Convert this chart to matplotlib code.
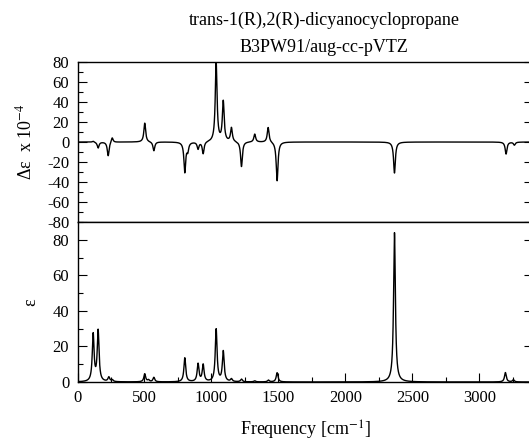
import numpy as np
import matplotlib
matplotlib.use("Agg")
import matplotlib.pyplot as plt
from matplotlib.ticker import MultipleLocator

plt.rcParams['font.family'] = ['Liberation Serif', 'DejaVu Serif']
plt.rcParams['mathtext.fontset'] = 'stix'
plt.rcParams['axes.unicode_minus'] = False

# Calculated band positions [cm-1] and intensities
ir_freq = [117, 154, 234, 260, 502, 530, 570, 801, 900, 938, 1035, 1088,
           1149, 1224, 1323, 1425, 1490, 2366, 3194, 3254]
ir_eps = [26.5, 28.5, 2.5, 1.0, 4.5, 1.0, 2.5, 13.5, 10.0, 9.5, 29.5, 17.0,
          1.5, 1.5, 0.6, 1.0, 5.2, 84.0, 5.3, 1.2]

vcd_freq = [117, 154, 229, 259, 502, 570, 801, 823, 900, 938, 1035, 1088,
            1149, 1224, 1323, 1423, 1490, 2366, 3199, 3261]
vcd_deps = [1.0, -6.0, -14.0, 5.0, 19.0, -9.0, -30.0, -8.0, -7.0, -12.0,
            79.0, 40.0, 14.0, -25.0, 8.0, 15.0, -39.0, -31.0, -12.0, -3.0]

HWHM = 8.0


def lorentz_sum(x, centers, heights, gamma=HWHM):
    y = np.zeros_like(x)
    for c, h in zip(centers, heights):
        y += h / (1.0 + ((x - c) / gamma) ** 2)
    return y


x = np.linspace(0, 3400, 6801)
eps = lorentz_sum(x, ir_freq, ir_eps)
deps = lorentz_sum(x, vcd_freq, vcd_deps)

fig = plt.figure(figsize=(5.29, 4.41), dpi=100)
left, width = 77.5 / 529, 455.5 / 529
ax1 = fig.add_axes([left, 219 / 441, width, 160 / 441])
ax2 = fig.add_axes([left, 59 / 441, width, 160 / 441])

ax1.plot(x, deps, color='black', lw=1.0)
ax2.plot(x, eps, color='black', lw=1.0)

for ax in (ax1, ax2):
    ax.set_xlim(0, 3400)
    for s in ax.spines.values():
        s.set_linewidth(1.0)
    ax.tick_params(which='both', direction='in', labelsize=12, width=0.8,
                   right=True, top=False, pad=6)
    ax.tick_params(which='major', length=6.5)
    ax.tick_params(which='minor', length=3.6, right=False)

ax1.set_ylim(-80, 80)
ax1.yaxis.set_major_locator(MultipleLocator(20))
ax1.yaxis.set_minor_locator(MultipleLocator(10))
ax1.tick_params(axis='x', which='both', bottom=False, labelbottom=False)
ax1.set_ylabel('Δε  x 10$^{-4}$', fontsize=13)
ax1.yaxis.set_label_coords(-0.092, 0.5)

ax2.set_ylim(0, 90)
ax2.yaxis.set_major_locator(MultipleLocator(20))
ax2.yaxis.set_minor_locator(MultipleLocator(10))
ax2.xaxis.set_major_locator(MultipleLocator(500))
ax2.xaxis.set_minor_locator(MultipleLocator(250))
ax2.tick_params(axis='x', which='minor', length=3.6)
ax2.set_ylabel('ε', fontsize=13)
ax2.yaxis.set_label_coords(-0.085, 0.5)
ax2.set_xlabel('Frequency [cm$^{-1}$]', fontsize=13, labelpad=9)

fig.text(324 / 529, 1 - 20 / 441, 'trans-1(R),2(R)-dicyanocyclopropane',
         ha='center', va='center', fontsize=13)
fig.text(324 / 529, 1 - 47 / 441, 'B3PW91/aug-cc-pVTZ',
         ha='center', va='center', fontsize=13)

fig.savefig('out.png', dpi=100)
